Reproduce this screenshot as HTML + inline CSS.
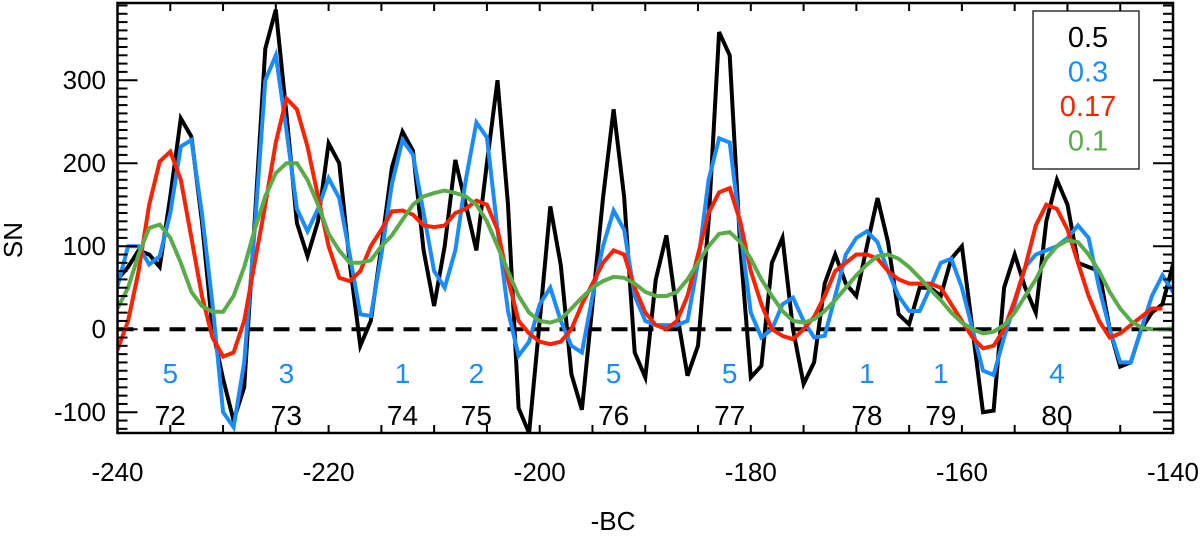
<!DOCTYPE html>
<html><head><meta charset="utf-8"><style>
html,body{margin:0;padding:0;background:#fff;}
svg{display:block;font-family:"Liberation Sans",sans-serif;}
</style></head><body>
<svg id="chart" width="1200" height="548" viewBox="0 0 1200 548"></svg>
<script>
const years = [];
for (let y = -240; y <= -140; y++) years.push(y);
const seriesBlack = [60,75,95,90,75,160,254,232,130,0,-60,-110,-70,130,338,385,260,128,88,130,224,200,80,-20,10,100,195,238,215,95,28,100,204,150,95,200,300,150,-95,-125,10,148,77,-54,-97,30,158,265,160,-28,-58,60,113,20,-56,-20,130,358,330,100,-58,-44,80,110,0,-66,-40,55,90,55,40,100,158,105,18,6,50,50,40,85,100,0,-100,-98,50,90,50,20,130,180,150,80,75,70,0,-45,-40,0,20,30,78];
const seriesBlue = [52,100,100,78,88,140,220,228,140,30,-100,-118,-40,120,300,330,240,145,118,145,182,158,90,18,16,90,175,228,210,140,70,50,95,180,249,231,120,22,-32,-15,30,50,10,-20,-28,40,100,143,120,40,10,5,5,5,10,80,180,230,225,120,20,-10,0,30,38,10,-10,-8,40,90,110,118,105,70,40,22,22,50,80,85,50,0,-50,-55,-10,30,75,90,95,100,110,125,110,50,0,-40,-40,0,40,65,45];
const seriesRed = [-25,10,70,150,202,214,180,110,40,-10,-33,-28,10,80,150,225,278,265,220,160,100,62,58,70,100,120,142,143,138,125,123,125,140,145,155,150,120,60,10,-5,-15,-18,-15,0,30,55,80,95,90,50,20,5,0,10,40,90,140,165,170,130,70,30,0,-8,-12,0,15,40,70,80,90,90,85,70,60,55,55,55,50,30,10,-10,-23,-20,0,35,75,125,150,145,120,80,40,10,-10,-5,5,15,25,25];
const seriesGreen = [25,50,90,122,126,110,80,45,28,21,21,40,75,120,160,188,200,200,180,150,115,95,80,80,83,100,113,132,150,160,164,167,164,160,150,130,100,70,40,20,10,8,12,25,38,50,58,63,62,55,45,40,40,45,60,80,100,115,117,105,85,60,40,22,10,8,12,22,35,50,65,78,88,90,85,75,62,48,35,20,8,0,-5,-3,5,20,40,60,85,100,107,105,90,70,45,25,10,2,0,0,1];
const xTicks = [-240,-220,-200,-180,-160,-140];
const yTicks = [-100,0,100,200,300];
const cycleX = [-235,-224,-213,-206,-193,-182,-169,-162,-151];
const cycleNums = ["72","73","74","75","76","77","78","79","80"];
const cycleCounts = ["5","3","1","2","5","5","1","1","4"];
const legendLabels = ["0.5","0.3","0.17","0.1"];

const L=117.5,R=1173,T=3,B=433;
const X0=-240,X1=-140,Y0=-125,Y1=393;
const sx=v=>L+(v-X0)/(X1-X0)*(R-L);
const sy=v=>B-(v-Y0)/(Y1-Y0)*(B-T);
const NS="http://www.w3.org/2000/svg";
const svg=document.getElementById('chart');
function mk(tag,attrs,parent){const e=document.createElementNS(NS,tag);for(const k in attrs)e.setAttribute(k,attrs[k]);(parent||svg).appendChild(e);return e;}

const defs=mk('defs',{});const cp=mk('clipPath',{id:'clip'},defs);mk('rect',{x:L,y:T,width:R-L,height:B-T},cp);

const zl=mk('line',{x1:L,x2:R,y1:sy(0),y2:sy(0),stroke:'#000','stroke-width':4,'stroke-dasharray':'16 10'});



const seriesList=[[seriesBlack,'#000','series-0.5'],[seriesBlue,'#1a8cff','series-0.3'],[seriesRed,'#ff2200','series-0.17'],[seriesGreen,'#5aab4a','series-0.1']];
const g=mk('g',{'clip-path':'url(#clip)'});
seriesList.forEach(([d,c,n])=>{
  const p=mk('polyline',{points:d.map((v,i)=>sx(years[i]).toFixed(1)+','+sy(v).toFixed(1)).join(' '),fill:'none',stroke:c,'stroke-width':4,'stroke-linejoin':'miter'},g);
  
  
});

const fr=mk('rect',{x:L,y:T,width:R-L,height:B-T,fill:'none',stroke:'#000','stroke-width':2.5});


for(let v=X0;v<=X1;v+=5){
  mk('line',{x1:sx(v),x2:sx(v),y1:B,y2:B-8,stroke:'#000','stroke-width':2});
  mk('line',{x1:sx(v),x2:sx(v),y1:T,y2:T+8,stroke:'#000','stroke-width':2});
}
xTicks.forEach(v=>{
  const t=mk('text',{x:sx(v),y:481,'font-size':26,'text-anchor':'middle',fill:'#000'});t.textContent=v;
  
  
});
for(let v=-120;v<=390;v+=10){
  const major=v%100===0;const len=major?20:10;
  mk('line',{x1:L,x2:L+len,y1:sy(v),y2:sy(v),stroke:'#000','stroke-width':2});
  mk('line',{x1:R,x2:R-len,y1:sy(v),y2:sy(v),stroke:'#000','stroke-width':2});
}
yTicks.forEach(v=>{
  const t=mk('text',{x:106,y:sy(v)+9,'font-size':26,'text-anchor':'end',fill:'#000'});t.textContent=v;
  
  
});
const xt=mk('text',{x:613,y:530,'font-size':26,'text-anchor':'middle'});xt.textContent='-BC';


const yt=mk('text',{x:22,y:240,'font-size':26,'text-anchor':'middle',transform:'rotate(-90 22 240)'});yt.textContent='SN';



cycleX.forEach((v,i)=>{
  const a=mk('text',{x:sx(v),y:383,'font-size':28,'text-anchor':'middle',fill:'#1a8cff'});a.textContent=cycleCounts[i];
  
  
  const b=mk('text',{x:sx(v),y:425,'font-size':28,'text-anchor':'middle',fill:'#000'});b.textContent=cycleNums[i];
  
  
});

const lg=mk('g',{});


mk('rect',{x:1033,y:11,width:106,height:158,fill:'#fff',stroke:'#000','stroke-width':1.2},lg);
const lc=['#000','#1a8cff','#ff2200','#5aab4a'];
legendLabels.forEach((s,i)=>{
  const t=mk('text',{x:1088,y:47+i*34.5,'font-size':29,'text-anchor':'middle',fill:lc[i]},lg);t.textContent=s;
  
  
});
</script>
</body></html>
